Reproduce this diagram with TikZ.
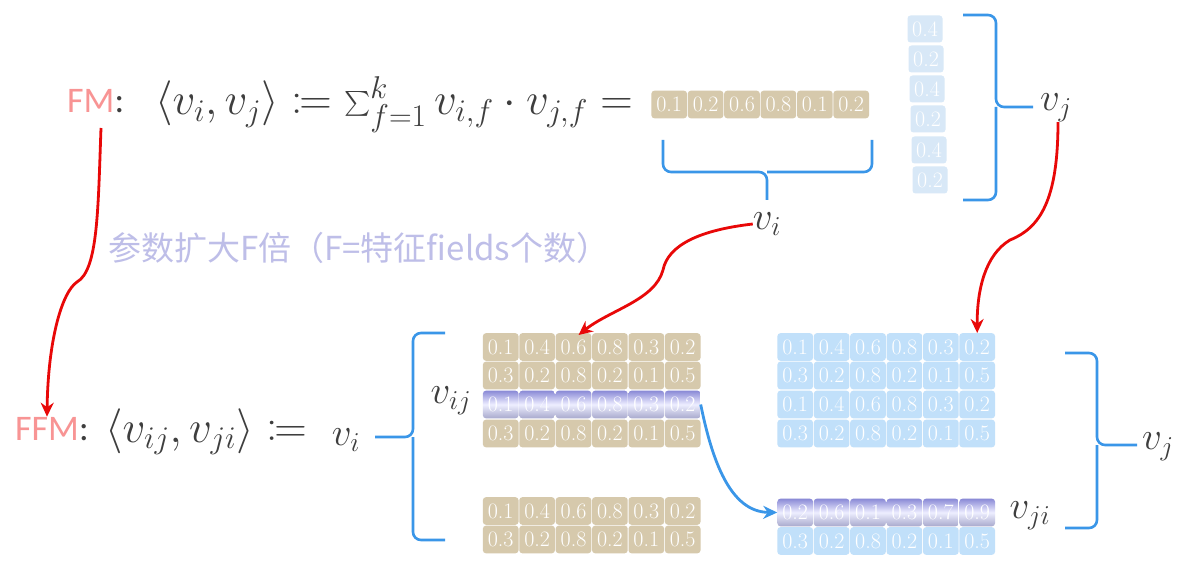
\RequirePackage{fix-cm}
\documentclass[tikz,border=0pt]{standalone}
\usepackage{fontspec}
\usepackage{mathtools}
\newfontfamily\carl{Carlito}
\newfontfamily\cjk{Noto Sans CJK SC}
\usetikzlibrary{arrows.meta}
\definecolor{tanc}{RGB}{214,201,172}
\definecolor{lblue}{RGB}{193,224,250}
\definecolor{fblue}{RGB}{216,232,247}
\definecolor{hltop}{RGB}{138,138,214}
\definecolor{hlmid}{RGB}{238,238,255}
\definecolor{hlbot}{RGB}{168,170,205}
\definecolor{pinkc}{RGB}{248,148,148}
\definecolor{grayt}{RGB}{62,62,62}
\definecolor{purpc}{RGB}{190,190,232}
\definecolor{bluel}{RGB}{58,150,232}
\definecolor{redl}{RGB}{232,8,8}
\newcommand\cellrow[5]{%
  \foreach \val [count=\k] in {#5} {\node[#4] (#1-\k) at ({#2+(\k-0.5)*36.4},#3) {\val};}}
\begin{document}
\begin{tikzpicture}[x=1pt,y=-1pt,
  cellbase/.style={rounded corners=3pt, minimum width=35.6pt, minimum height=27.6pt,
    inner sep=0pt, text=white, font=\fontsize{22}{22}\selectfont},
  tancell/.style={cellbase, fill=tanc},
  bluecell/.style={cellbase, fill=lblue},
  fadecell/.style={cellbase, fill=fblue, minimum width=35pt, minimum height=27pt},
  hlcell/.style={cellbase, top color=hltop, bottom color=hlbot, middle color=hlmid},
  bracepath/.style={draw=bluel, line width=2.6pt, rounded corners=8pt},
  redarrow/.style={draw=redl, line width=2.8pt, -{Stealth[length=14pt,width=13pt]}},
  bluearrow/.style={draw=bluel, line width=2.8pt, -{Stealth[length=14pt,width=13pt]}},
  lab/.style={text=grayt, inner sep=0pt, font=\fontsize{39}{41}\selectfont},
  formula/.style={text=grayt, inner sep=0pt, anchor=base west, font=\fontsize{45}{48}\selectfont},
  title/.style={inner sep=0pt, anchor=base west, font=\carl\fontsize{36}{40}\selectfont},
]
\useasboundingbox[fill=white] (0,0) rectangle (1179,572);

% ---------- top formula ----------
\node[title] (fm) at (67,113) {\textcolor{pinkc}{FM}\textcolor{grayt}{:}};
\node[formula] (fmf) at (155,115) {$\langle v_i, v_j\rangle \coloneqq \sum_{f=1}^{k} v_{i,f}\cdot v_{j,f} =$};

% v_i row
\cellrow{vi}{651}{104.5}{tancell}{0.1,0.2,0.6,0.8,0.1,0.2}
% v_j column
\node[fadecell] (vjc-1) at (925,29) {0.4};
\node[fadecell] (vjc-2) at (926,59) {0.2};
\node[fadecell] (vjc-3) at (927,89) {0.4};
\node[fadecell] (vjc-4) at (928,119) {0.2};
\node[fadecell] (vjc-5) at (929,150) {0.4};
\node[fadecell] (vjc-6) at (930,180) {0.2};

% braces top
\draw[bracepath] (663,140) |- (767,172) -- (767,200);
\draw[bracepath] (872,140) |- (767,172);
\draw[bracepath] (963,15) -| (996,107) -- (1033,107);
\draw[bracepath] (963,200) -| (996,107);

\node[lab] (vi) at (767,224) {$v_i$};
\node[lab] (vj) at (1056,108) {$v_j$};

% ---------- note ----------
\node[anchor=west, inner sep=0pt, text=purpc, font=\cjk\fontsize{33}{36}\selectfont] (note) at (108,248) {参数扩大F倍（F=特征fields个数）};

% ---------- bottom formula ----------
\node[title] (ffm) at (15,440) {\textcolor{pinkc}{FFM}\textcolor{grayt}{:}};
\node[formula] (ffmf) at (105,442) {$\langle v_{ij}, v_{ji}\rangle \coloneqq$};
\node[lab] (vi2) at (346,440) {$v_i$};
\draw[bracepath] (445,333) -| (413,437) -- (375,437);
\draw[bracepath] (445,540) -| (413,437);
\node[lab] (vij) at (451,401) {$v_{ij}$};

% left matrices
\cellrow{a1}{482.5}{347}{tancell}{0.1,0.4,0.6,0.8,0.3,0.2}
\cellrow{a2}{482.5}{375.5}{tancell}{0.3,0.2,0.8,0.2,0.1,0.5}
\cellrow{a3}{482.5}{404.5}{hlcell}{0.1,0.4,0.6,0.8,0.3,0.2}
\cellrow{a4}{482.5}{433.5}{tancell}{0.3,0.2,0.8,0.2,0.1,0.5}
\cellrow{b1}{482.5}{511}{tancell}{0.1,0.4,0.6,0.8,0.3,0.2}
\cellrow{b2}{482.5}{539.5}{tancell}{0.3,0.2,0.8,0.2,0.1,0.5}

% right matrices
\cellrow{c1}{777}{347}{bluecell}{0.1,0.4,0.6,0.8,0.3,0.2}
\cellrow{c2}{777}{375.5}{bluecell}{0.3,0.2,0.8,0.2,0.1,0.5}
\cellrow{c3}{777}{404.5}{bluecell}{0.1,0.4,0.6,0.8,0.3,0.2}
\cellrow{c4}{777}{433.5}{bluecell}{0.3,0.2,0.8,0.2,0.1,0.5}
\cellrow{d1}{777}{512.5}{hlcell}{0.2,0.6,0.1,0.3,0.7,0.9}
\cellrow{d2}{777}{541}{bluecell}{0.3,0.2,0.8,0.2,0.1,0.5}

\draw[bracepath] (1065,353) -| (1097,445) -- (1137,445);
\draw[bracepath] (1065,528) -| (1097,445);
\node[lab] (vji) at (1030,516) {$v_{ji}$};
\node[lab] (vj2) at (1158,447) {$v_j$};

% ---------- arrows ----------
\coordinate (r1s) at (101,128);
\draw[redarrow] (r1s) .. controls (98,210) and (98,270) .. (77,282) .. controls (62,292) and (48,340) .. (ffm.north west -| 47,400);
\draw[redarrow] (vi.west) .. controls (700,230) and (668,245) .. (663,270) .. controls (655,300) and (610,310) .. ([xshift=5pt,yshift=-2pt]a1-3.north);
\draw[redarrow] ([xshift=2pt]vj.south) .. controls (1058,200) and (1040,228) .. (1010,240) .. controls (985,255) and (977,290) .. (c1-6.north);
\draw[bluearrow] (a3-6.east) .. controls (712,460) and (730,512) .. (d1-1.west);
\end{tikzpicture}
\end{document}
